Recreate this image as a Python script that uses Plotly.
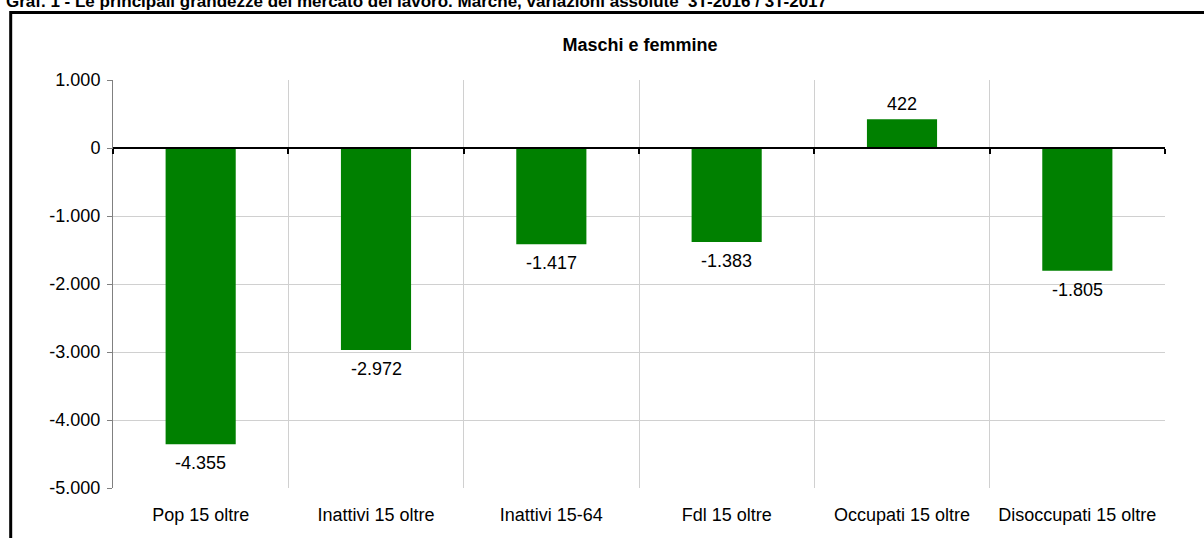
import plotly.graph_objects as go

# Data
categories = ['Pop 15 oltre', 'Inattivi 15 oltre', 'Inattivi 15-64',
              'Fdl 15 oltre', 'Occupati 15 oltre', 'Disoccupati 15 oltre']
values = [-4355, -2972, -1417, -1383, 422, -1805]
y_ticks = [1000, 0, -1000, -2000, -3000, -4000, -5000]
y_range = [-5000, 1000]

chart_title = ('Graf. 1 - Le principali grandezze del mercato del lavoro. '
               'Marche, variazioni assolute  3T-2016 / 3T-2017')
plot_title = 'Maschi e femmine'


def it_number(v):
    """Format with Italian thousands separator and ASCII minus"""
    return f'{v:,}'.replace(',', '.')


positions = list(range(len(categories)))
boundaries = [p - 0.5 for p in positions] + [positions[-1] + 0.5]
x_range = [boundaries[0], boundaries[-1]]
zero_pos = (0 - y_range[0]) / (y_range[1] - y_range[0])

FONT = 'Liberation Sans, Arial, sans-serif'
FS = 18

fig = go.Figure()

fig.add_trace(go.Bar(
    x=positions, y=values, width=0.4,
    marker=dict(color='#008000', line=dict(width=0)),
    hoverinfo='skip', showlegend=False,
))
# invisible trace so the category-label axis gets drawn
fig.add_trace(go.Scatter(
    x=positions, y=values, xaxis='x2', mode='markers',
    marker=dict(opacity=0), hoverinfo='skip', showlegend=False,
))

# Value labels beyond the end of each bar
for x, v in zip(positions, values):
    fig.add_annotation(
        x=x, y=v, xref='x', yref='y', text=it_number(v), showarrow=False,
        yanchor='top' if v < 0 else 'bottom',
        yshift=-7 if v < 0 else 3,
        font=dict(size=FS, color='black', family=FONT),
    )

fig.update_layout(
    width=1204, height=538,
    margin=dict(l=113, r=39, t=80, b=50),
    plot_bgcolor='white', paper_bgcolor='white',
    font=dict(family=FONT, size=FS, color='black'),
    title=dict(text=plot_title, x=0.5315, xanchor='center',
               y=1 - 45 / 538, yanchor='middle',
               font=dict(size=FS, weight='bold', color='black')),
    # x axis crossing at zero, with boundary ticks and grid
    xaxis=dict(
        range=x_range, anchor='free', position=zero_pos,
        tickvals=boundaries, showticklabels=False,
        ticks='outside', ticklen=5, tickwidth=2, tickcolor='black',
        showline=True, linecolor='black', linewidth=2,
        showgrid=True, gridcolor='#d0d0d0', gridwidth=1,
        zeroline=False, fixedrange=True,
    ),
    # category labels along the bottom
    xaxis2=dict(
        range=x_range, overlaying='x', anchor='y', side='bottom',
        tickvals=positions, ticktext=categories,
        ticks='outside', ticklen=10, tickcolor='rgba(0,0,0,0)',
        showgrid=False, showline=False, zeroline=False, fixedrange=True,
        tickfont=dict(size=FS),
    ),
    yaxis=dict(
        range=y_range, tickvals=y_ticks,
        ticktext=[it_number(v) for v in y_ticks],
        ticks='outside', ticklen=5, tickcolor='#808080',
        ticklabelstandoff=3,
        showline=True, linecolor='#808080', linewidth=1,
        showgrid=True, gridcolor='#d0d0d0', gridwidth=1,
        zeroline=False, fixedrange=True,
    ),
    bargap=0.6,
)

# Outer chart frame (cut by the image edges on right and bottom)
fig.add_shape(type='rect', xref='paper', yref='paper',
              x0=(10.7 - 113) / 1052, x1=1.3,
              y0=-0.4, y1=(488 - 12.5) / 408,
              line=dict(color='black', width=3), layer='above')

# Chart caption, partly cut off at the top
fig.add_annotation(text=f'<b>{chart_title}</b>', showarrow=False,
                   xref='paper', yref='paper',
                   x=(4 - 113) / 1052, xanchor='left',
                   y=(488 - 1) / 408, yanchor='middle',
                   font=dict(size=17, color='black', family=FONT))

# page has a default body margin; remove it so the chart sits at 0,0
fig.write_html('out.html', config={'displayModeBar': False},
               post_script="document.body.style.margin='0';")
